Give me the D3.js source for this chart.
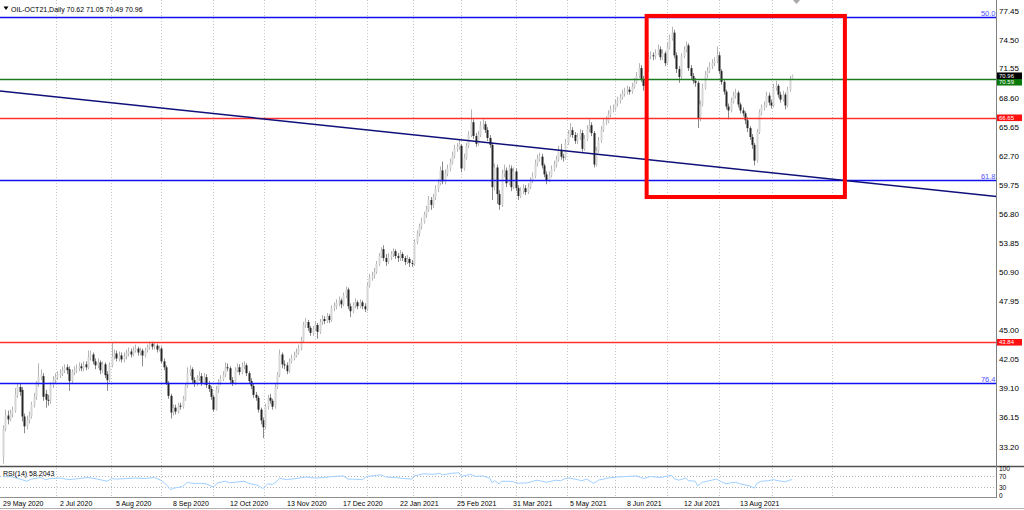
<!DOCTYPE html>
<html><head><meta charset="utf-8">
<script src="https://cdn.jsdelivr.net/npm/d3@7"></script>
<style>
html,body{margin:0;padding:0;background:#fff;}
svg{display:block;font-family:"Liberation Sans",Arial,sans-serif;}
</style></head><body>
<svg id="c" width="1024" height="510"></svg>
<script>
// ---------- DATA ----------
const symbolTitle = "OIL-OCT21,Daily  70.62 71.05 70.49 70.96";
const rsiTitle = "RSI(14) 58.2043";

const opens = [
32.2,35.0,36.4,36.0,36.6,36.9,38.5,39.3,39.0,36.3,
35.3,35.9,36.3,37.5,38.3,39.6,40.3,40.4,38.6,38.0,
37.9,39.5,40.0,40.3,40.5,40.7,41.0,41.3,41.1,39.9,
40.8,41.0,41.2,41.4,41.2,41.6,41.3,42.3,42.6,41.9,
41.5,41.8,41.0,41.6,40.6,40.0,41.5,42.4,42.7,42.2,
42.5,42.1,42.4,42.7,42.9,42.6,43.0,43.2,42.8,43.0,
42.5,43.0,43.3,43.7,43.4,43.5,43.1,43.2,41.9,41.3,
39.7,38.4,36.7,37.2,36.8,37.4,37.3,38.1,39.4,40.7,
41.1,40.0,39.6,40.2,40.4,39.7,40.3,39.5,39.1,38.3,
37.0,39.0,39.8,40.1,40.5,41.3,41.2,40.0,39.7,41.0,
41.3,40.8,41.4,41.5,40.7,39.9,39.4,38.5,38.2,37.0,
35.9,35.2,37.3,38.2,37.9,37.3,39.3,40.5,42.6,41.6,
41.5,40.9,41.9,42.2,42.5,42.8,43.2,44.0,45.6,45.9,
45.3,44.8,45.2,45.6,44.9,45.9,46.2,46.0,46.5,46.1,
47.3,47.5,47.8,48.1,47.7,48.6,49.2,47.5,47.0,47.6,
47.9,47.5,47.9,47.5,47.2,49.6,50.4,50.6,51.0,51.8,
52.6,53.3,52.4,52.0,52.5,52.8,53.1,52.6,52.4,52.8,
52.4,52.0,52.3,51.9,51.8,54.0,54.9,55.6,56.1,56.8,
57.3,58.3,57.8,58.6,59.4,60.0,61.3,60.2,61.0,61.5,
62.1,62.8,63.5,63.7,63.8,61.5,62.6,63.8,64.9,66.2,
64.8,64.0,64.9,65.9,66.0,65.4,64.6,63.9,59.6,61.6,
58.9,57.8,61.0,61.3,60.0,61.5,59.6,61.2,59.5,58.7,
59.2,59.5,59.1,59.6,60.2,60.7,62.0,62.5,62.7,61.8,
60.9,60.3,60.8,61.4,61.9,62.4,63.4,62.7,62.6,64.1,
65.0,65.4,64.9,64.3,64.7,65.1,63.5,64.5,65.5,65.9,
65.1,61.9,63.3,64.3,65.4,66.2,66.3,67.0,67.5,67.6,
68.1,68.4,68.7,69.1,69.3,69.5,69.3,69.8,70.3,70.9,
71.7,70.6,69.9,71.5,72.9,73.0,72.9,73.2,73.6,72.8,
73.2,72.2,73.8,74.7,75.3,73.0,71.6,70.8,72.9,73.5,
74.0,71.7,70.9,70.4,70.2,66.6,68.0,69.7,71.0,71.4,
71.9,72.2,72.4,73.0,71.4,70.3,69.3,67.8,67.4,68.3,
68.9,69.2,68.0,67.4,67.1,66.4,65.6,64.7,63.9,62.3,
65.2,67.2,67.7,67.9,68.9,68.2,67.9,69.7,69.9,69.0,
68.5,69.0,67.9,69.5,70.62];

const highs = [
35.4,37.0,36.9,37.0,37.3,39.2,39.6,39.7,39.3,36.6,
36.4,36.8,37.8,38.7,39.9,41.7,41.1,40.7,39.0,38.5,
39.8,40.4,40.7,40.9,41.1,41.4,41.6,41.6,41.4,41.1,
41.4,41.6,41.8,41.7,41.9,41.9,43.0,43.0,42.8,42.2,
42.2,42.0,41.9,41.8,40.9,41.8,43.8,43.1,43.0,42.9,
42.8,42.8,43.1,43.3,43.2,43.4,43.6,43.4,43.3,43.2,
43.3,43.6,43.9,43.9,43.8,43.7,43.5,43.4,42.2,41.5,
39.9,38.6,37.5,37.5,37.7,37.7,38.4,39.7,41.3,41.5,
41.3,40.3,40.5,40.9,40.7,40.7,40.6,39.9,39.4,38.5,
39.4,40.1,40.5,40.9,41.8,41.7,41.4,40.3,41.3,41.7,
41.6,41.8,41.9,41.7,40.9,40.2,39.6,38.8,38.4,37.2,
36.2,37.6,38.5,38.6,38.1,39.6,40.8,43.1,42.8,42.0,
41.8,42.2,42.6,42.9,43.2,43.6,44.4,45.9,46.3,46.1,
45.5,45.5,46.0,45.8,46.2,46.6,46.5,46.8,46.7,47.6,
47.9,48.2,48.5,48.3,48.9,49.5,49.4,47.8,47.9,48.3,
48.1,48.2,48.1,47.8,49.9,50.8,51.0,51.4,52.1,52.9,
53.5,53.7,52.8,52.9,53.1,53.4,53.3,52.9,53.2,53.0,
52.6,52.7,52.5,52.2,54.3,55.2,55.9,56.5,57.1,57.7,
58.7,58.6,58.9,59.8,60.4,61.7,62.2,61.4,61.9,62.5,
63.2,63.9,64.1,64.4,64.0,63.0,64.1,65.3,67.5,66.5,
65.1,65.3,66.3,66.5,66.3,65.7,64.9,64.1,62.0,61.9,
59.3,61.4,61.9,61.6,61.9,61.8,61.6,61.5,59.8,59.6,
59.9,59.8,60.0,60.6,61.1,62.4,62.9,63.1,63.0,62.0,
61.2,61.2,61.8,62.3,62.8,63.8,64.0,63.0,64.5,65.4,
66.1,65.7,65.2,65.1,65.5,65.4,64.9,65.9,66.5,66.2,
65.3,63.7,64.7,65.8,66.6,66.8,67.4,67.9,68.0,68.5,
68.8,69.1,69.5,69.7,69.9,69.8,70.2,70.7,71.3,72.2,
72.0,70.9,71.9,73.3,73.4,73.3,73.6,74.1,73.9,73.6,
73.4,74.3,75.1,75.9,75.6,73.3,71.9,73.2,73.9,74.4,
74.2,72.0,71.2,70.7,70.4,68.4,70.1,71.4,71.8,72.3,
72.6,72.8,73.9,73.3,71.6,70.5,69.5,68.1,68.7,69.3,
69.6,69.4,68.2,67.7,67.3,66.7,65.8,65.0,64.1,65.5,
67.5,68.0,68.3,69.3,69.2,68.5,70.1,70.4,70.1,69.3,
69.4,69.2,69.8,70.9,71.05];

const lows = [
31.5,34.8,35.5,35.8,36.2,36.7,38.2,38.4,35.8,34.6,
35.0,35.6,36.1,37.2,38.0,39.3,40.0,37.9,37.2,37.4,
37.6,39.2,39.7,40.0,40.2,40.4,40.7,40.6,38.9,39.6,
40.5,40.7,40.9,40.9,40.9,41.0,41.1,42.0,41.6,41.1,
41.2,40.6,40.7,40.2,38.9,39.8,41.3,42.1,41.9,41.9,
41.8,41.8,42.1,42.4,42.3,42.4,42.8,42.5,42.5,41.4,
42.3,42.8,43.1,43.1,43.1,42.8,42.9,41.7,41.0,39.5,
38.1,36.1,36.4,36.5,36.6,37.0,37.1,37.9,39.2,40.4,
39.7,39.3,39.4,39.9,39.4,39.5,39.2,38.8,38.0,36.8,
36.9,38.7,39.5,39.9,40.3,40.9,39.7,39.4,39.5,40.8,
40.5,40.6,41.1,40.4,39.6,39.1,38.2,37.9,36.7,35.5,
34.1,35.0,37.0,37.6,37.0,37.1,39.1,40.3,41.2,41.1,
40.6,40.7,41.7,42.0,42.3,42.6,43.0,43.8,45.3,45.0,
44.5,44.5,45.0,44.2,44.7,45.6,45.7,45.8,45.8,45.9,
47.0,47.2,47.5,47.3,47.5,48.3,47.2,46.4,46.8,47.3,
47.2,47.3,47.2,46.9,47.0,49.4,50.1,50.3,50.8,51.6,
52.4,52.1,51.6,51.8,52.2,52.5,52.3,52.0,52.1,52.1,
51.7,51.8,51.5,51.5,51.6,53.8,54.6,55.3,55.9,56.5,
57.1,57.3,57.5,58.3,59.1,59.8,59.9,59.9,60.7,61.2,
61.9,62.5,63.2,63.4,61.1,61.3,62.4,63.6,64.7,64.5,
63.7,63.8,64.7,65.5,65.1,64.3,63.6,58.3,59.3,57.9,
57.3,57.6,60.6,59.6,59.8,59.2,59.4,59.2,58.3,58.5,
58.9,58.8,58.9,59.4,60.0,60.5,61.7,62.2,61.5,60.6,
59.9,60.1,60.6,61.2,61.6,62.2,62.4,62.2,62.4,63.9,
64.7,64.6,64.0,64.0,64.4,63.2,63.3,64.3,65.2,64.8,
61.6,61.7,63.1,64.1,65.2,65.9,66.1,66.7,67.2,67.4,
67.8,68.1,68.5,68.8,69.0,69.0,69.1,69.6,70.1,70.7,
70.3,69.4,69.7,71.3,72.6,72.5,72.6,73.0,72.5,72.5,
71.9,72.0,73.6,74.5,72.7,71.2,70.2,70.6,72.7,73.3,
71.4,70.6,70.1,69.8,65.6,66.3,67.8,69.5,70.7,71.2,
71.6,71.9,72.2,71.1,70.0,69.0,67.5,66.5,67.2,68.1,
68.6,67.7,67.1,66.8,66.0,65.2,64.4,63.5,61.8,62.1,
65.0,66.9,67.4,67.7,67.9,67.6,67.7,69.4,68.7,68.2,
68.3,67.5,67.7,69.3,70.49];

const closes = [
35.0,36.4,36.0,36.6,36.9,38.5,39.3,38.8,36.3,35.3,
35.9,36.3,37.5,38.3,39.6,40.3,40.6,38.3,38.0,37.9,
39.5,40.0,40.3,40.5,40.7,41.0,41.2,41.0,39.9,40.8,
41.0,41.2,41.4,41.2,41.5,41.3,42.3,42.6,41.9,41.5,
41.8,41.0,41.6,40.5,40.0,41.5,42.4,42.7,42.2,42.5,
42.1,42.4,42.7,42.9,42.6,43.0,43.2,42.8,43.0,42.5,
43.0,43.3,43.6,43.4,43.5,43.1,43.2,41.9,41.3,39.7,
38.4,36.7,37.2,36.8,37.4,37.3,38.1,39.4,40.7,41.1,
40.0,39.6,40.2,40.4,39.7,40.3,39.5,39.1,38.3,37.0,
39.0,39.8,40.1,40.5,41.3,41.2,40.0,39.7,41.0,41.3,
40.8,41.4,41.5,40.7,39.9,39.4,38.5,38.2,37.0,35.9,
35.2,37.3,38.2,37.9,37.3,39.3,40.5,42.6,41.6,41.5,
40.9,41.9,42.2,42.5,42.8,43.2,44.0,45.6,45.9,45.3,
44.8,45.2,45.6,44.9,45.9,46.2,46.0,46.5,46.1,47.3,
47.5,47.8,48.1,47.7,48.6,49.2,47.5,47.0,47.6,47.9,
47.5,47.9,47.5,47.2,49.6,50.4,50.6,51.0,51.8,52.6,
53.1,52.4,52.0,52.5,52.8,53.1,52.6,52.4,52.8,52.4,
52.0,52.3,51.9,51.8,54.0,54.9,55.6,56.1,56.8,57.3,
58.3,57.8,58.6,59.4,60.0,61.3,60.2,61.0,61.5,62.1,
62.8,63.5,63.7,64.0,61.5,62.6,63.8,64.9,66.2,64.8,
64.0,64.9,65.9,66.0,65.4,64.6,63.9,59.6,61.6,58.9,
57.8,61.0,61.3,60.0,61.5,59.6,61.2,59.5,58.7,59.2,
59.5,59.1,59.6,60.2,60.7,62.0,62.5,62.7,61.8,60.9,
60.3,60.8,61.4,61.9,62.4,63.4,62.7,62.6,64.1,65.0,
65.4,64.9,64.3,64.7,65.1,63.5,64.5,65.5,65.9,65.1,
61.9,63.3,64.3,65.4,66.2,66.3,67.0,67.5,67.6,68.1,
68.4,68.7,69.1,69.3,69.5,69.3,69.8,70.3,70.9,71.7,
70.6,69.9,71.5,72.9,73.0,72.9,73.2,73.6,72.8,73.2,
72.2,73.8,74.7,75.3,73.0,71.6,70.8,72.9,73.5,74.0,
71.7,70.9,70.4,70.2,66.6,68.0,69.7,71.0,71.4,71.9,
72.2,72.4,73.0,71.4,70.3,69.3,67.8,67.4,68.3,68.9,
69.2,68.0,67.4,67.1,66.4,65.6,64.7,63.9,62.3,65.2,
67.2,67.7,67.9,68.9,68.2,67.9,69.7,69.9,69.0,68.5,
69.0,67.9,69.5,70.6,70.96];

// RSI(14) (bar index -> value)
const rsiBars = [0,4,8,10,12,16,18,20,24,28,32,36,40,44,46,48,52,56,60,64,67,69,71,72,76,78,80,84,86,89,91,94,96,100,102,104,108,110,112,114,116,117,120,124,128,132,136,140,144,146,148,152,154,158,160,162,166,170,173,174,178,182,185,186,190,193,194,196,198,200,203,206,207,208,210,211,214,216,218,222,226,228,230,234,236,238,240,242,245,247,250,252,256,260,264,268,270,271,274,278,283,284,286,289,290,293,294,296,300,302,304,306,308,310,312,316,318,319,321,324,326,328,331,333,334];
const rsiValues = [70,68,58,52,60,66,58,62,64,58,62,66,60,52,62,60,62,64,62,66,55,40,20,25,32,48,44,44,42,30,46,52,46,50,52,44,36,24,42,40,52,63,58,62,68,64,66,70,72,60,60,58,70,74,76,68,66,62,60,72,80,78,82,76,82,84,70,74,78,70,72,64,46,54,42,52,52,50,44,46,56,52,48,56,54,62,64,60,54,60,44,56,64,68,70,72,66,62,70,66,74,62,56,64,54,52,34,48,56,60,50,42,46,48,42,34,26,44,52,54,58,54,50,56,58.2];
const rsiLevels = [70, 30];
const rsiAxisLabels = ["100","70","30","0"];
const rsiAxisValues = [100,70,30,0];

const priceTicks = [77.45,74.50,71.55,68.60,65.65,62.70,59.75,56.80,53.85,50.90,47.95,45.00,42.05,39.10,36.15,33.20];

const timeLabels = ["29 May 2020","2 Jul 2020","5 Aug 2020","8 Sep 2020","12 Oct 2020","13 Nov 2020","17 Dec 2020","22 Jan 2021","25 Feb 2021","31 Mar 2021","5 May 2021","8 Jun 2021","12 Jul 2021","13 Aug 2021"];
const timeLabelBars = [0,24,48,72,96,120,144,168,192,216,240,264,288,312];

const gridBars = [22.5,45.5,67,89,110.5,132,154,173.5,194,217,238.5,259,281,303,325.5,351];

// horizontal levels
const redLevels = [66.65, 43.84];
const greenLevels = [70.59];
const fibLabels = ["50.0","61.8","76.4"];
const fibPrices = [76.89, 60.28, 39.75];

// trend line through two (bar, price) anchors
const trendBars = [0, 334];
const trendPrices = [69.34, 60.85];

// highlight box (bar range, price range)
const boxBars = [272.4, 356.3];
const boxPrices = [77.0, 58.6];

// ---------- DRAW ----------
const svg = d3.select('#c');
const axisX = 996.5;
const mainBottom = 466;
const x = d3.scaleLinear().domain([0, 334]).range([3, 792.2]);
const y = d3.scaleLinear().domain([33.20, 77.45]).range([447, 11.5]);
const ry = d3.scaleLinear().domain([0, 100]).range([495, 468.5]);

svg.append('rect').attr('width',1024).attr('height',510).attr('fill','#fff');

const defs = svg.append('defs');
defs.append('clipPath').attr('id','mainClip').append('rect').attr('x',0).attr('y',0).attr('width',axisX).attr('height',mainBottom);
defs.append('clipPath').attr('id','rsiClip').append('rect').attr('x',0).attr('y',468).attr('width',axisX).attr('height',29);

// grid
const grid = svg.append('g').attr('stroke','#c4c4c4').attr('stroke-dasharray','1,2').attr('stroke-width',1);
gridBars.forEach(b => {
  const gx = Math.round(x(b)) + 0.5;
  if (gx < axisX) {
    grid.append('line').attr('x1',gx).attr('x2',gx).attr('y1',0).attr('y2',mainBottom);
    grid.append('line').attr('x1',gx).attr('x2',gx).attr('y1',468).attr('y2',497);
  }
});

const main = svg.append('g').attr('clip-path','url(#mainClip)');

// candles
const idx = d3.range(closes.length);
const cg = main.append('g');
cg.selectAll('line.wick').data(idx).join('line')
  .attr('x1', i => Math.round(x(i)) + 0.5).attr('x2', i => Math.round(x(i)) + 0.5)
  .attr('y1', i => y(highs[i])).attr('y2', i => y(lows[i]))
  .attr('stroke', i => closes[i] >= opens[i] ? '#b4b4b4' : '#8a8a8a').attr('stroke-width',1);
cg.selectAll('rect.body').data(idx).join('rect')
  .attr('x', i => Math.round(x(i)) - 0.5)
  .attr('width', 2)
  .attr('y', i => y(Math.max(opens[i], closes[i])))
  .attr('height', i => Math.max(1, Math.abs(y(opens[i]) - y(closes[i]))))
  .attr('fill', i => closes[i] >= opens[i] ? '#d6d6d6' : '#262626');

// horizontal levels
const hl = main.append('g');
redLevels.forEach(p => hl.append('line').attr('x1',0).attr('x2',axisX).attr('y1',Math.round(y(p))+0.5).attr('y2',Math.round(y(p))+0.5).attr('stroke','#ff3030').attr('stroke-width',1.3));
greenLevels.forEach(p => hl.append('line').attr('x1',0).attr('x2',axisX).attr('y1',Math.round(y(p))+0.5).attr('y2',Math.round(y(p))+0.5).attr('stroke','#1e7a1e').attr('stroke-width',1.3));
fibPrices.forEach((p,k) => {
  const yy = Math.round(y(p)) + 0.5;
  hl.append('line').attr('x1',0).attr('x2',axisX).attr('y1',yy).attr('y2',yy).attr('stroke','#1010f0').attr('stroke-width',1.4);
  hl.append('text').attr('x',axisX-1).attr('y',yy-1.5).attr('text-anchor','end')
    .attr('font-size',7.5).attr('fill','#5050ff').text(fibLabels[k]);
});

// trend line (extended across the pane)
const slope = (trendPrices[1]-trendPrices[0])/(trendBars[1]-trendBars[0]);
const b0 = x.invert(0), b1 = x.invert(axisX);
main.append('line')
  .attr('x1', x(b0)).attr('y1', y(trendPrices[0] + slope*(b0-trendBars[0])))
  .attr('x2', x(b1)).attr('y2', y(trendPrices[0] + slope*(b1-trendBars[0])))
  .attr('stroke','#10107a').attr('stroke-width',1.5);

// highlight box
main.append('rect')
  .attr('x', x(boxBars[0])).attr('y', y(boxPrices[0]))
  .attr('width', x(boxBars[1]) - x(boxBars[0]))
  .attr('height', y(boxPrices[1]) - y(boxPrices[0]))
  .attr('fill','none').attr('stroke','#ff0000').attr('stroke-width',4);

// title
svg.append('path').attr('d','M3.5,6.5 L8.5,6.5 L6,10 Z').attr('fill','#000');
svg.append('text').attr('x',11).attr('y',9).attr('dominant-baseline','central')
  .attr('font-size',7).attr('fill','#000').text(symbolTitle);

// shift marker
svg.append('path').attr('d','M793,0 L800,0 L796.5,4 Z').attr('fill','#a8a8a8');

// RSI panel
const rsiG = svg.append('g').attr('clip-path','url(#rsiClip)');
rsiLevels.forEach(v => rsiG.append('line').attr('x1',0).attr('x2',axisX)
  .attr('y1',Math.round(ry(v))+0.5).attr('y2',Math.round(ry(v))+0.5)
  .attr('stroke','#b8b8b8').attr('stroke-dasharray','1,2'));
rsiG.append('path')
  .datum(d3.range(rsiBars.length))
  .attr('d', d3.line().x(k => x(rsiBars[k])).y(k => ry(rsiValues[k])))
  .attr('fill','none').attr('stroke','#9fcfff').attr('stroke-width',1);
svg.append('text').attr('x',3).attr('y',473.5).attr('dominant-baseline','central')
  .attr('font-size',7).attr('fill','#000').text(rsiTitle);

// separators / frame
svg.append('line').attr('x1',0).attr('x2',1024).attr('y1',466.5).attr('y2',466.5).attr('stroke','#505050').attr('stroke-width',1.5);
svg.append('line').attr('x1',0).attr('x2',axisX).attr('y1',497.5).attr('y2',497.5).attr('stroke','#909090');
svg.append('line').attr('x1',axisX).attr('x2',axisX).attr('y1',0).attr('y2',498).attr('stroke','#808080');
svg.append('line').attr('x1',0).attr('x2',1024).attr('y1',508.5).attr('y2',508.5).attr('stroke','#b0b0b0');

// price axis (the 71.55 tick sits partly under the last-price tag, as in the reference)
const pa = svg.append('g').attr('font-size',8).attr('fill','#000');
priceTicks.forEach(p => pa.append('text').attr('x',999).attr('y',y(p) - (p === 71.55 ? 1.5 : 0))
  .attr('dominant-baseline','central').text(p.toFixed(2)));

// coloured price labels
function tag(p, dy, bg, label){
  const yy = y(p) + dy;
  svg.append('rect').attr('x',997).attr('y',yy-3.3).attr('width',25).attr('height',6.6).attr('fill',bg);
  svg.append('text').attr('x',999).attr('y',yy).attr('dominant-baseline','central')
    .attr('font-size',6).attr('fill','#fff').text(label);
}
redLevels.forEach(p => tag(p, 0, '#ff1010', p.toFixed(2)));
tag(greenLevels[0], 3.2, '#0a7a0a', greenLevels[0].toFixed(2));
tag(closes[closes.length-1], 0.4, '#000', closes[closes.length-1].toFixed(2));

// RSI axis labels
rsiAxisValues.forEach((v,k) => svg.append('text').attr('x',999).attr('y',ry(v)).attr('dominant-baseline','central')
  .attr('font-size',6.5).attr('fill','#000').text(rsiAxisLabels[k]));

// time axis
const ta = svg.append('g').attr('font-size',7).attr('fill','#000');
timeLabels.forEach((t,k) => {
  const tx = Math.round(x(timeLabelBars[k]));
  ta.append('text').attr('x',tx).attr('y',503).attr('dominant-baseline','central').text(t);
});
</script>
</body></html>
